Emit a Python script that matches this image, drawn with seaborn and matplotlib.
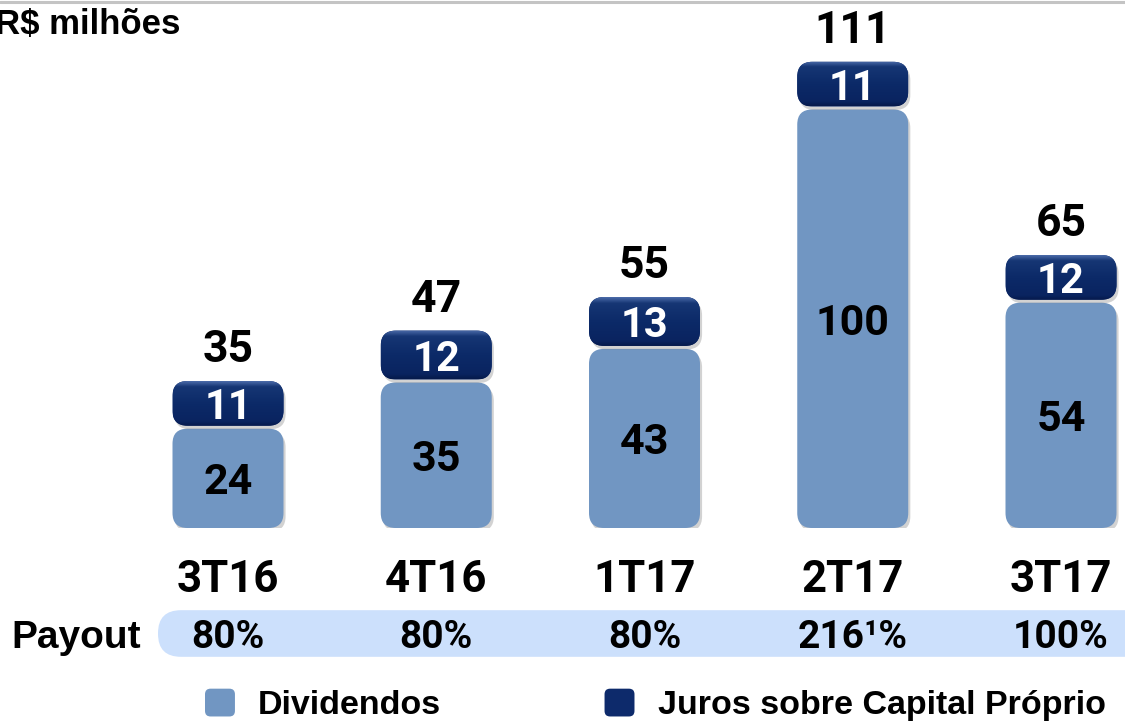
import matplotlib
matplotlib.use("Agg")
import matplotlib.pyplot as plt
import matplotlib.patheffects as pe
import matplotlib.patches as mpatches
from matplotlib.patches import FancyBboxPatch
from matplotlib.legend_handler import HandlerPatch
from matplotlib.lines import Line2D
from matplotlib.colors import LinearSegmentedColormap
import seaborn as sns
import pandas as pd
import numpy as np

# ---------------- data ----------------
periodos = ["3T16", "4T16", "1T17", "2T17", "3T17"]
dividendos = [24, 35, 43, 100, 54]
juros = [11, 12, 13, 11, 12]
totais = [35, 47, 55, 111, 65]
payout = ["80%", "80%", "80%", "216¹%", "100%"]

# ---------------- style ----------------
COR_DIV = "#7196C2"
COR_JCP = "#0D2A6B"
COR_PAYOUT = "#CCE0FC"

sns.set_theme(style="white")
plt.rcParams["font.family"] = ["Liberation Sans", "DejaVu Sans"]
plt.rcParams["font.weight"] = "bold"
NUM_FONT = ["Roboto", "Liberation Sans", "DejaVu Sans"]  # Arial-like digits, unfooted "1"

W, H = 1125, 724
fig = plt.figure(figsize=(W / 100, H / 100), dpi=100)

base_px = 528
px_per_unit = 4.2
x0_px, step_px = 228, 208.25
ax = fig.add_axes([0, (H - base_px) / H, 1, base_px / H])

df = pd.DataFrame({"periodo": periodos, "dividendos": dividendos,
                   "juros": juros, "total": totais})
bar_w = 111 / step_px
sns.barplot(data=df, x="periodo", y="total", color=COR_JCP, width=bar_w,
            ax=ax, order=periodos, saturation=1, errorbar=None)
sns.barplot(data=df, x="periodo", y="dividendos", color=COR_DIV, width=bar_w,
            ax=ax, order=periodos, saturation=1, errorbar=None)

pats = list(ax.patches)
tot_p, div_p = pats[:5], pats[5:10]
for p in pats:
    p.remove()

half_gap = 1.5 / px_per_unit
r = 15 / step_px
aspect = step_px / px_per_unit
shadow = [pe.SimplePatchShadow(offset=(1.5, -2.5), shadow_rgbFace="gray", alpha=0.35),
          pe.Normal()]
cmap_jcp = LinearSegmentedColormap.from_list(
    "jcp", [(0, "#4A6AA8"), (0.12, "#163674"), (0.5, "#0C2A68"),
            (0.9, "#0A2460"), (1, "#061A4C")])
grad = np.linspace(0, 1, 64).reshape(-1, 1)

for i in range(len(periodos)):
    x = div_p[i].get_x()
    w = div_p[i].get_width()
    d = div_p[i].get_height()
    t = tot_p[i].get_height()
    xc = x + w / 2

    pdv = FancyBboxPatch((x, 0), w, d - half_gap,
                         boxstyle=f"round,pad=0,rounding_size={r}",
                         mutation_aspect=aspect, fc=COR_DIV, ec="none", zorder=2)
    pdv.set_path_effects(shadow)
    ax.add_patch(pdv)

    y0 = d + half_gap
    pj = FancyBboxPatch((x, y0), w, t - y0,
                        boxstyle=f"round,pad=0,rounding_size={r}",
                        mutation_aspect=aspect, fc=COR_JCP, ec="none", zorder=2)
    pj.set_path_effects(shadow)
    ax.add_patch(pj)
    im = ax.imshow(grad, extent=[x, x + w, y0, t], origin="upper", cmap=cmap_jcp,
                   aspect="auto", zorder=3, interpolation="bilinear")
    im.set_clip_path(pj)

    ax.text(xc, (d - half_gap) / 2, str(dividendos[i]), ha="center",
            va="center_baseline", fontsize=31, color="black", fontweight="bold",
            family=NUM_FONT, zorder=5)
    ax.text(xc, (y0 + t) / 2, str(juros[i]), ha="center",
            va="center_baseline", fontsize=30, color="white", fontweight="bold",
            family=NUM_FONT, zorder=5)
    ax.annotate(str(totais[i]), (xc, t), xytext=(0, 7), textcoords="offset points",
                ha="center", va="bottom", fontsize=32, color="black",
                fontweight="bold", family=NUM_FONT)

ax.set_xlim(-x0_px / step_px, (W - x0_px) / step_px)
ax.set_ylim(0, base_px / px_per_unit)
ax.set_xlabel("")
ax.set_ylabel("")
ax.set_yticks([])
ax.tick_params(axis="x", length=0, pad=22, labelsize=31.5)
for lab in ax.get_xticklabels():
    lab.set_fontweight("bold")
    lab.set_color("black")
    lab.set_family(NUM_FONT)
sns.despine(ax=ax, left=True, bottom=True)
ax.set_facecolor("none")

# ---------------- payout row ----------------
row_top, row_bot = 607, 660
ax2 = fig.add_axes([0, (H - row_bot) / H, 1, (row_bot - row_top) / H])
ax2.set_xlim(ax.get_xlim())
ax2.set_ylim(0, 1)
ax2.axis("off")
row_h_px = row_bot - row_top
pill_left = (158 - x0_px) / step_px
pill_right = (1150 - x0_px) / step_px
pill = FancyBboxPatch((pill_left, 0.06), pill_right - pill_left, 0.88,
                      boxstyle=f"round,pad=0,rounding_size={23 / step_px}",
                      mutation_aspect=step_px / row_h_px, fc=COR_PAYOUT, ec="none")
ax2.add_patch(pill)
ax2.text((76 - x0_px) / step_px, 0.5, "Payout", ha="center", va="center_baseline",
         fontsize=28, fontweight="bold", color="black")
for i, v in enumerate(payout):
    ax2.text(i, 0.5, v, ha="center", va="center_baseline", fontsize=28,
             fontweight="bold", color="black", family=NUM_FONT)

# ---------------- header & decoration ----------------
fig.text(-5 / W, 1 - 21 / H, "R$ milhões", ha="left", va="center_baseline",
         fontsize=25, fontweight="bold", color="black")
fig.add_artist(Line2D([0, 1], [1 - 1.5 / H] * 2, transform=fig.transFigure,
                      color="#C4C4C4", lw=2.2))

# ---------------- legend ----------------
def rounded_handle(legend, orig_handle, xdescent, ydescent, width, height, fontsize):
    return FancyBboxPatch((-xdescent, -ydescent), width, height,
                          boxstyle="round,pad=0,rounding_size=4")

h_div = mpatches.Patch(facecolor=COR_DIV, edgecolor="none")
h_jcp = mpatches.Patch(facecolor=COR_JCP, edgecolor="none")
leg = fig.legend(handles=[h_div, h_jcp],
                 labels=["Dividendos", "Juros sobre Capital Próprio"],
                 handler_map={mpatches.Patch: HandlerPatch(patch_func=rounded_handle)},
                 loc="center left", bbox_to_anchor=(205 / W, 1 - 705 / H),
                 ncol=2, frameon=False, prop={"size": 24.5, "weight": "bold"},
                 labelcolor="black",
                 handlelength=0.88, handleheight=0.88, handletextpad=0.68,
                 columnspacing=4.8, borderpad=0, borderaxespad=0)

fig.savefig("out.png", dpi=100)
